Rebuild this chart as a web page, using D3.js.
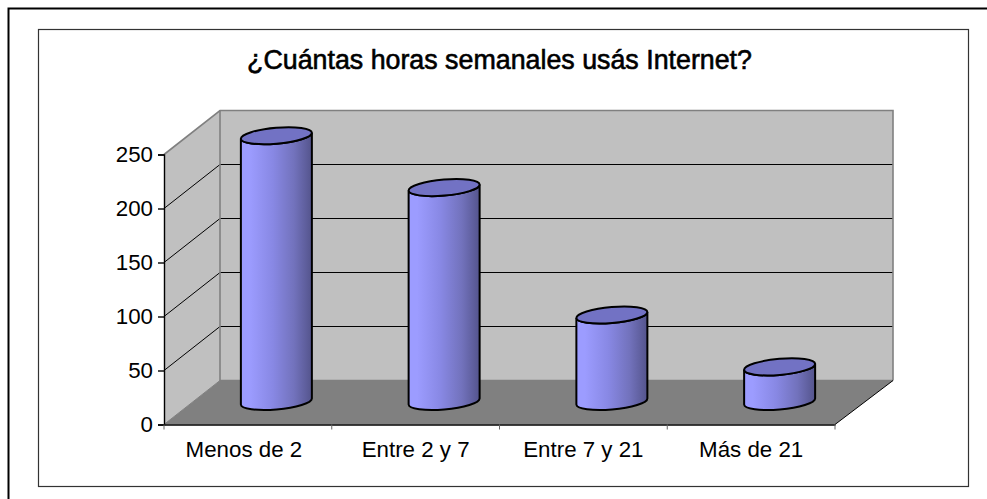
<!DOCTYPE html>
<html><head><meta charset="utf-8">
<script src="https://cdn.jsdelivr.net/npm/d3@7"></script>
<style>html,body{margin:0;padding:0;background:#fff}svg{display:block}text{font-family:"Liberation Sans",Arial,sans-serif;fill:#000}</style>
</head><body><svg id="c" width="987" height="499"></svg>
<script>
const title = "¿Cuántas horas semanales usás Internet?";
const categories = ["Menos de 2","Entre 2 y 7","Entre 7 y 21","Más de 21"];
const values = [247,199,81,33];
const yTicks = [0,50,100,150,200,250];

const svg = d3.select("#c");
const L=164,R=835,B=424.5,T=154.5,dx=56,dy=-44;
const x = d3.scaleBand().domain(categories).range([L,R]);
const y = d3.scaleLinear().domain([0,250]).range([B,T]);
const line = d3.line();
const poly=(pts,fill)=>svg.append("path").attr("d",line(pts)+"Z").attr("fill",fill);
const snap=v=>Math.round(v-.5)+.5;

// frames
svg.append("path").attr("d","M8.5,499V8.5H987").attr("fill","none").attr("stroke","#000").attr("stroke-width",2);
svg.append("rect").attr("x",38.5).attr("y",29.5).attr("width",930).attr("height",457).attr("fill","#fff").attr("stroke","#333").attr("stroke-width",1.2);

// walls
poly([[L,y(250)],[L+dx,y(250)+dy],[L+dx,B+dy],[L,B]],"#c0c0c0");
poly([[L+dx,y(250)+dy],[R+dx+2,y(250)+dy],[R+dx+2,B+dy],[L+dx,B+dy]],"#c0c0c0");
poly([[L,B],[R,B],[R+dx+2,B+dy],[L+dx,B+dy]],"#808080");

// gridlines
yTicks.slice(1,-1).forEach(t=>{
  const p=snap(y(t));
  svg.append("path").attr("d",line([[L,p],[L+dx,p+dy],[R+dx+2,p+dy]]))
    .attr("fill","none").attr("stroke","#000").attr("stroke-width",1);
});
// wall outline
svg.append("path").attr("d",line([[L,y(250)],[L+dx,y(250)+dy],[R+dx+2,y(250)+dy],[R+dx+2,B+dy]])).attr("fill","none").attr("stroke","#808080").attr("stroke-width",1.6);
svg.append("path").attr("d",line([[L+dx,y(250)+dy],[L+dx,B+dy],[R+dx+2,B+dy]])).attr("fill","none").attr("stroke","#808080").attr("stroke-width",1.6);
svg.append("path").attr("d",line([[L,B],[L+dx,B+dy]])).attr("fill","none").attr("stroke","#808080").attr("stroke-width",1);
svg.append("path").attr("d",line([[R,B],[R+dx+2,B+dy]])).attr("fill","none").attr("stroke","#000").attr("stroke-width",1);

// axes
const ax=svg.append("g").attr("transform",`translate(${L},0)`).call(d3.axisLeft(y).tickValues(yTicks).tickSize(6).tickPadding(5));
ax.selectAll("text").style("font-size","22.3px").attr("dy","0.33em");
ax.selectAll("line,path").attr("stroke","#000").attr("stroke-width",1.4);
const bx=svg.append("g").attr("transform",`translate(0,${B})`).call(d3.axisBottom(x).tickValues([]).tickSize(0));
bx.selectAll("path").attr("stroke","#000").attr("stroke-width",1.5);
d3.range(0,5).forEach(i=>{const p=L+i*x.bandwidth();
  svg.append("line").attr("x1",p).attr("x2",p).attr("y1",B).attr("y2",B+5).attr("stroke","#666");});
svg.selectAll(".cat").data(categories).join("text").attr("class","cat")
  .attr("x",d=>x(d)+x.bandwidth()/2-(d===categories[0]?4:0)).attr("y",457)
  .attr("text-anchor","middle").style("font-size","22.3px").text(d=>d);

// gradient
const defs=svg.append("defs");
const g=defs.append("linearGradient").attr("id","cyl");
[[0,"#9c9cff"],[.12,"#9c9cff"],[.45,"#8888e4"],[.75,"#7272bc"],[1,"#54548c"]].forEach(([o,c])=>g.append("stop").attr("offset",o).attr("stop-color",c));

// cylinders
const rx=35.5, ry=8, tilt=3;
categories.forEach((c,i)=>{
  const cx=x(c)+x.bandwidth()/2+dx/2+0.5, base=B+dy/2-1, top=y(values[i])+dy/2;
  const arc=(x1,y1,sw)=>`A${rx},${ry} -5 0 ${sw} ${x1},${y1}`;
  const lx=cx-rx, rxp=cx+rx;
  const d=`M${lx},${top+tilt}L${lx},${base+tilt}${arc(rxp,base-tilt,0)}L${rxp},${top-tilt}${arc(lx,top+tilt,1)}Z`;
  svg.append("path").attr("d",d).attr("fill","url(#cyl)").attr("stroke","#000").attr("stroke-width",2);
  svg.append("path").attr("d",`M${lx},${top+tilt}${arc(rxp,top-tilt,1)}${arc(lx,top+tilt,1)}Z`)
    .attr("fill","#7272c4").attr("stroke","#000").attr("stroke-width",2);
});

svg.append("text").attr("x",499.5).attr("y",69).attr("text-anchor","middle").style("font-size","26.8px").style("stroke","#000").style("stroke-width",.6).text(title);
</script></body></html>
